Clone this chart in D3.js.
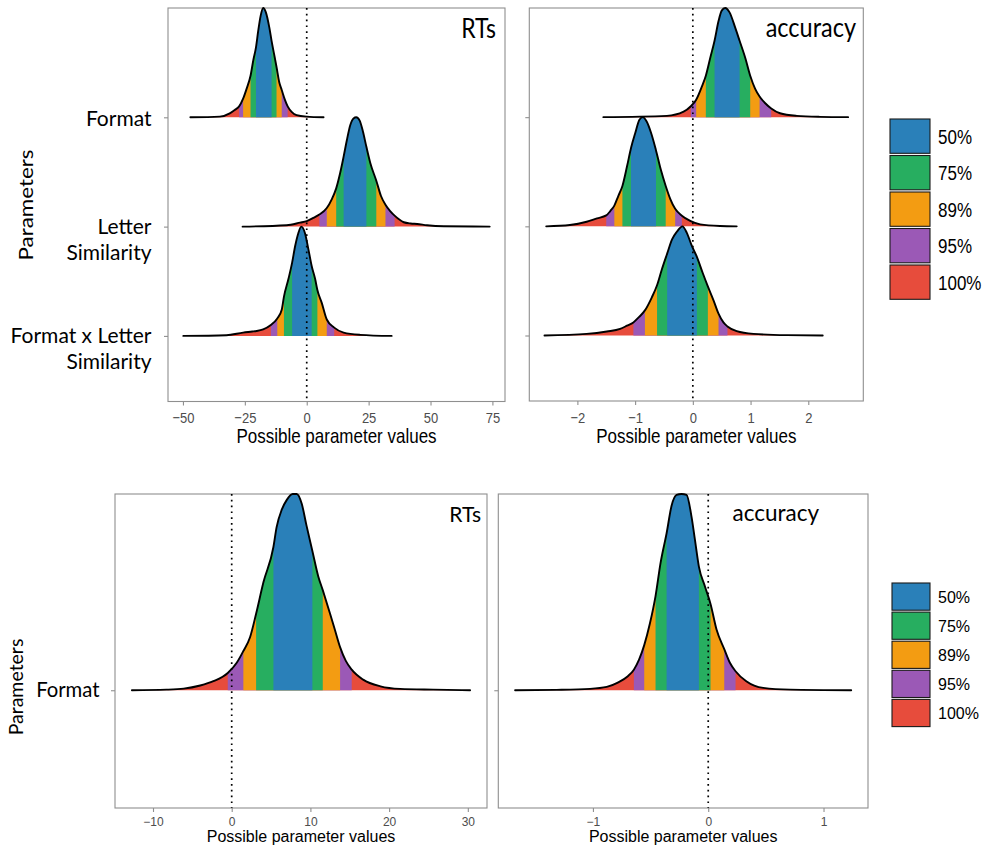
<!DOCTYPE html>
<html>
<head>
<meta charset="utf-8">
<script src="https://cdn.jsdelivr.net/npm/d3@7"></script>
<style>
  html, body { margin: 0; padding: 0; background: #ffffff; }
  svg { display: block; }
</style>
</head>
<body>
<svg id="chart" width="988" height="850"></svg>
<script>
// ---------------- DATA ----------------
const parameters = ["Format", "Letter Similarity", "Format x Letter Similarity"];
const parametersExp2 = ["Format"];
const intervalLabels = ["50%", "75%", "89%", "95%", "100%"];
const intervalColors = ["#2a80b9", "#27ae60", "#f39c12", "#9b59b6", "#e74c3c"];
const panelTitles = ["RTs", "accuracy", "RTs", "accuracy"];

// posterior density outlines: [value, relative height]
const rtFormat = [[-47.0,0],[-35.1,0.006],[-31.1,0.036],[-29.1,0.067],[-27.3,0.10],[-25.7,0.17],[-24.3,0.26],[-22.7,0.38],[-21.6,0.52],[-20.5,0.64],[-19.6,0.79],[-18.6,0.93],[-17.6,1.0],[-16.5,0.96],[-15.1,0.82],[-14.2,0.70],[-13.2,0.58],[-12.2,0.46],[-11.1,0.32],[-10.1,0.25],[-8.8,0.16],[-7.7,0.10],[-6.1,0.05],[-4.1,0.02],[0,0.006],[6.8,0]];
const rtLetter = [[-25.9,0],[-8.1,0.012],[-2.7,0.036],[0,0.05],[2.7,0.08],[5.1,0.11],[8.1,0.17],[10.1,0.25],[11.9,0.35],[13.5,0.49],[14.9,0.64],[16.2,0.79],[17.6,0.93],[18.9,0.99],[20.0,1.0],[21.4,0.97],[22.7,0.87],[24.1,0.73],[25.7,0.58],[28.1,0.42],[30.0,0.28],[31.8,0.20],[33.8,0.14],[35.5,0.10],[39.2,0.04],[42.0,0.028],[44.6,0.024],[48.6,0.012],[55.4,0.003],[73.9,0]];
const rtInteraction = [[-49.85,0],[-32.4,0.006],[-25.7,0.03],[-22.0,0.04],[-20.3,0.045],[-17.6,0.06],[-14.5,0.10],[-11.9,0.16],[-10.1,0.24],[-9.2,0.36],[-7.4,0.52],[-5.9,0.67],[-4.7,0.82],[-3.4,0.94],[-2.2,1.0],[-0.7,0.94],[0.7,0.79],[2.0,0.64],[3.4,0.52],[4.3,0.42],[6.1,0.30],[8.1,0.15],[11.1,0.076],[14.9,0.03],[21.6,0.01],[34.3,0]];
const accFormat = [[-1.55,0],[-0.45,0.012],[-0.16,0.05],[-0.035,0.10],[0.058,0.16],[0.156,0.28],[0.225,0.38],[0.30,0.54],[0.376,0.70],[0.445,0.88],[0.50,0.976],[0.56,1.0],[0.636,0.96],[0.734,0.82],[0.81,0.70],[0.91,0.54],[0.994,0.38],[1.08,0.26],[1.156,0.19],[1.25,0.13],[1.358,0.08],[1.51,0.036],[1.80,0.012],[2.2,0.003],[2.69,0]];
const accLetter = [[-2.54,0],[-2.13,0.012],[-1.84,0.042],[-1.66,0.073],[-1.50,0.10],[-1.43,0.14],[-1.36,0.19],[-1.29,0.28],[-1.22,0.37],[-1.14,0.55],[-1.07,0.72],[-1.0,0.85],[-0.925,0.976],[-0.867,1.0],[-0.80,0.96],[-0.72,0.85],[-0.64,0.70],[-0.555,0.52],[-0.47,0.37],[-0.39,0.25],[-0.306,0.16],[-0.19,0.097],[-0.046,0.05],[0.127,0.018],[0.47,0.003],[0.76,0]];
const accInteraction = [[-2.57,0],[-1.84,0.015],[-1.49,0.037],[-1.26,0.06],[-1.14,0.09],[-1.03,0.12],[-0.93,0.17],[-0.83,0.23],[-0.71,0.35],[-0.62,0.46],[-0.54,0.60],[-0.445,0.75],[-0.36,0.88],[-0.277,0.95],[-0.18,1.0],[-0.104,0.94],[-0.017,0.82],[0.07,0.72],[0.173,0.57],[0.26,0.45],[0.36,0.32],[0.445,0.20],[0.53,0.12],[0.60,0.083],[0.76,0.04],[1.05,0.015],[1.63,0.003],[2.25,0]];
const rtFormatExp2 = [[-12.68,0],[-8.3,0.003],[-6.1,0.008],[-4.0,0.024],[-2.33,0.046],[-0.5,0.088],[0.64,0.14],[1.48,0.20],[2.33,0.27],[3.1,0.39],[4.03,0.55],[5.3,0.73],[5.7,0.83],[6.36,0.92],[7.0,0.97],[7.75,1.0],[8.26,1.0],[8.9,0.95],[9.5,0.84],[10.25,0.71],[11.0,0.58],[11.57,0.51],[12.5,0.39],[13.1,0.31],[13.77,0.22],[14.5,0.15],[15.25,0.105],[16.7,0.054],[18.9,0.02],[21.4,0.007],[25.6,0.003],[30.29,0]];
const accFormatExp2 = [[-1.675,0],[-1.315,0.002],[-1.026,0.007],[-0.88,0.017],[-0.78,0.04],[-0.70,0.07],[-0.645,0.105],[-0.60,0.156],[-0.555,0.23],[-0.506,0.34],[-0.457,0.48],[-0.413,0.65],[-0.361,0.80],[-0.318,0.94],[-0.275,0.995],[-0.231,1.0],[-0.188,0.995],[-0.145,0.885],[-0.116,0.77],[-0.081,0.63],[-0.029,0.53],[0.02,0.44],[0.072,0.31],[0.139,0.21],[0.188,0.14],[0.237,0.097],[0.33,0.046],[0.477,0.012],[0.71,0.003],[1.24,0]];

// credible intervals [lo, hi] for 50%, 75%, 89%, 95%
const rtFormatCI = [[-20.5,-14.2],[-22.7,-12.2],[-25.7,-10.1],[-27.3,-7.7]];
const rtLetterCI = [[14.9,24.1],[11.9,28.1],[8.1,31.8],[5.1,35.5]];
const rtInteractionCI = [[-5.9,2.0],[-9.2,4.3],[-11.9,8.1],[-14.5,11.1]];
const accFormatCI = [[0.376,0.81],[0.225,0.994],[0.058,1.156],[-0.035,1.358]];
const accLetterCI = [[-1.07,-0.64],[-1.22,-0.47],[-1.36,-0.306],[-1.50,-0.19]];
const accInteractionCI = [[-0.445,0.07],[-0.62,0.26],[-0.83,0.445],[-1.03,0.60]];
const rtFormatExp2CI = [[5.3,10.25],[3.1,11.57],[1.48,13.77],[-0.5,15.25]];
const accFormatExp2CI = [[-0.361,-0.081],[-0.457,0.02],[-0.555,0.139],[-0.645,0.237]];

// tick labels
const rtTicksTop = [-50, -25, 0, 25, 50, 75];
const accTicksTop = [-2, -1, 0, 1, 2];
const rtTicksBottom = [-10, 0, 10, 20, 30];
const accTicksBottom = [-1, 0, 1];
const axisTitle = "Possible parameter values";
const yAxisTitle = "Parameters";

// ---------------- LAYOUT ----------------
const svg = d3.select("#chart");
const FRAME = "#8f8f8f";
const TICKTEXT = "#4d4d4d";
const SANS = "'Liberation Sans', Arial, Helvetica, sans-serif";
const HUM = "Lato, 'Open Sans', sans-serif";

function txt(g, str, x, y, o) {
  const t = g.append("text")
    .attr("transform", `translate(${x},${y}) scale(1,${o.stretch || 1})` + (o.rotate ? ` rotate(${o.rotate})` : ""))
    .attr("text-anchor", o.anchor || "start")
    .attr("font-family", o.family || SANS)
    .attr("font-size", o.size)
    .attr("fill", o.fill || "#000");
  if (Array.isArray(str)) {
    str.forEach((ln, j) => {
      t.append("tspan").attr("x", 0).attr("dy", j === 0 ? 0 : o.lineH).text(ln);
    });
  } else {
    t.text(str);
  }
  return t;
}

let clipId = 0;
function drawPanel(p) {
  const g = svg.append("g");
  const all = p.ridges.flat();
  const [mn, mx] = d3.extent(all, d => d[0]);
  const pad = (mx - mn) * 0.05;
  const x = d3.scaleLinear().domain([mn - pad, mx + pad]).range([p.x0, p.x1]);
  const n = p.ridges.length;
  const y = d3.scaleLinear().domain([0.4, n + 1]).range([p.y1, p.y0]);
  const S = p.stretch;

  // frame
  g.append("rect").attr("x", p.x0).attr("y", p.y0)
    .attr("width", p.x1 - p.x0).attr("height", p.y1 - p.y0)
    .attr("fill", "none").attr("stroke", FRAME).attr("stroke-width", 1.1);

  // ridges (top row first, lower rows drawn over)
  p.ridges.forEach((pts, i) => {
    const level = n - i;
    const base = y(level);
    const area = d3.area().x(d => x(d[0])).y0(base).y1(d => y(level + d[1])).curve(d3.curveMonotoneX);
    const line = d3.line().x(d => x(d[0])).y(d => y(level + d[1])).curve(d3.curveMonotoneX);
    const rg = g.append("g");
    rg.append("path").attr("d", area(pts)).attr("fill", intervalColors[4]);
    for (let k = 3; k >= 0; k--) {
      const [lo, hi] = p.cis[i][k];
      const id = "clip" + (clipId++);
      svg.append("clipPath").attr("id", id).append("rect")
        .attr("x", x(lo)).attr("y", p.y0 - 5).attr("width", x(hi) - x(lo)).attr("height", p.y1 - p.y0 + 10);
      rg.append("path").attr("d", area(pts)).attr("fill", intervalColors[k]).attr("clip-path", `url(#${id})`);
    }
    rg.append("path").attr("d", line(pts)).attr("fill", "none").attr("stroke", "#000")
      .attr("stroke-width", 1.9).attr("stroke-linejoin", "round").attr("stroke-linecap", "round");
  });

  // zero line
  g.append("line").attr("x1", x(0)).attr("x2", x(0)).attr("y1", p.y0).attr("y2", p.y1)
    .attr("stroke", "#000").attr("stroke-width", 1.7).attr("stroke-dasharray", "1.7,4.1");

  // x axis
  const xa = g.append("g").attr("transform", `translate(0,${p.y1})`)
    .call(d3.axisBottom(x).tickValues(p.ticks).tickSize(4).tickFormat(d3.format("d")));
  xa.select(".domain").remove();
  xa.selectAll(".tick line").attr("stroke", FRAME).attr("stroke-width", 1.1);
  xa.selectAll(".tick text").attr("y", null).attr("dy", null)
    .attr("transform", `translate(0,${p.tickBase}) scale(1,${S})`)
    .attr("font-family", SANS).attr("font-size", p.tickSize).attr("fill", TICKTEXT);

  // y axis ticks
  const levels = d3.range(n).map(i => n - i);
  const ya = g.append("g").attr("transform", `translate(${p.x0},0)`)
    .call(d3.axisLeft(y).tickValues(levels).tickSize(4).tickFormat(""));
  ya.select(".domain").remove();
  ya.selectAll(".tick line").attr("stroke", FRAME).attr("stroke-width", 1.1);

  // axis title
  txt(g, axisTitle, (p.x0 + p.x1) / 2, p.y1 + p.titleBase, { size: p.titleSize, anchor: "middle", stretch: S });
  // panel title
  txt(g, p.title, p.titleX, p.titleY, { size: p.labelSize, anchor: "end", family: HUM, stretch: S });

  // row labels
  if (p.rowLabels) {
    p.rowLabels.forEach((lines, i) => {
      const yy = y(n - i) + (lines.length > 1 ? p.rowOffset2 : p.rowOffset);
      txt(g, lines, p.rowLabelX, yy, { size: p.rowSize, anchor: "end", family: HUM, stretch: p.rowStretch, lineH: p.rowLineH });
    });
  }
  return { x, y };
}

function splitLabel(s) {
  if (s === "Letter Similarity") return ["Letter", "Similarity"];
  if (s === "Format x Letter Similarity") return ["Format x Letter", "Similarity"];
  return [s];
}

const topS = 1.18;
drawPanel({ x0: 168, x1: 505, y0: 8, y1: 401.5, ridges: [rtFormat, rtLetter, rtInteraction],
  cis: [rtFormatCI, rtLetterCI, rtInteractionCI], ticks: rtTicksTop, stretch: topS,
  tickBase: 21.5, tickSize: 13, titleBase: 41.5, titleSize: 17,
  title: panelTitles[0], titleX: 496, titleY: 38, labelSize: 23,
  rowLabels: parameters.map(splitLabel), rowLabelX: 151.5, rowOffset: 9, rowOffset2: 7.5,
  rowLineH: 25.5, rowSize: 21, rowStretch: 1 });
drawPanel({ x0: 529.3, x1: 863.3, y0: 8, y1: 401, ridges: [accFormat, accLetter, accInteraction],
  cis: [accFormatCI, accLetterCI, accInteractionCI], ticks: accTicksTop, stretch: topS,
  tickBase: 21.5, tickSize: 13, titleBase: 41.5, titleSize: 17,
  title: panelTitles[1], titleX: 856, titleY: 37, labelSize: 23.5 });
drawPanel({ x0: 115, x1: 487, y0: 494, y1: 808, ridges: [rtFormatExp2],
  cis: [rtFormatExp2CI], ticks: rtTicksBottom, stretch: 1,
  tickBase: 17.5, tickSize: 12, titleBase: 33.5, titleSize: 16,
  title: panelTitles[2], titleX: 481, titleY: 521.5, labelSize: 21,
  rowLabels: parametersExp2.map(splitLabel), rowLabelX: 99.5, rowOffset: 6.8, rowOffset2: 6.8,
  rowLineH: 25, rowSize: 20.3, rowStretch: 1 });
drawPanel({ x0: 498.3, x1: 868, y0: 494, y1: 808, ridges: [accFormatExp2],
  cis: [accFormatExp2CI], ticks: accTicksBottom, stretch: 1,
  tickBase: 17.5, tickSize: 12, titleBase: 33.5, titleSize: 16,
  title: panelTitles[3], titleX: 819, titleY: 520.5, labelSize: 22.5 });

// y-axis titles
txt(svg, yAxisTitle, 33, 205, { size: 19, anchor: "middle", family: HUM, stretch: topS, rotate: -90 });
txt(svg, yAxisTitle, 23, 687, { size: 19.5, anchor: "middle", family: HUM, rotate: -90 });

// legends
function legend(x0, y0, w, h, pitch, size, base, S) {
  const g = svg.append("g");
  intervalLabels.forEach((lab, i) => {
    g.append("rect").attr("x", x0).attr("y", y0 + i * pitch).attr("width", w).attr("height", h)
      .attr("fill", intervalColors[i]).attr("stroke", "#1a1a1a").attr("stroke-width", 1.1);
    txt(g, lab, x0 + w + 8, y0 + i * pitch + h / 2 + base, { size: size, stretch: S });
  });
}
legend(890, 119, 40, 34.3, 36.5, 17, 7.5, topS);
legend(892, 583, 38, 27.2, 29.1, 16, 6, 1);
</script>
</body>
</html>
